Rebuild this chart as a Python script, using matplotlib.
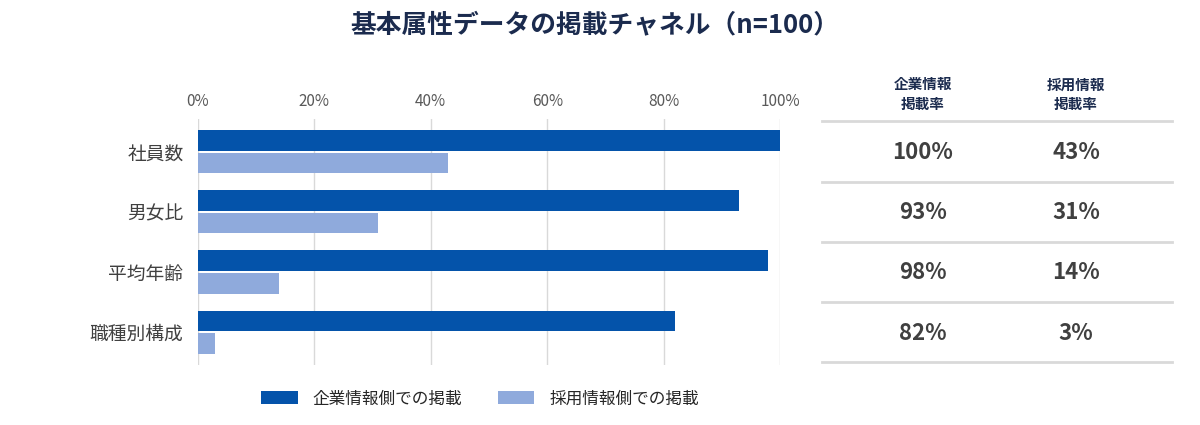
import matplotlib
matplotlib.use("Agg")
import matplotlib.pyplot as plt
from matplotlib.patches import Patch
import numpy as np

plt.rcParams['font.family'] = ['Noto Sans CJK JP', 'DejaVu Sans']

categories = ["社員数", "男女比", "平均年齢", "職種別構成"]
corp_values = [100, 93, 98, 82]
recruit_values = [43, 31, 14, 3]
series_names = ["企業情報側での掲載", "採用情報側での掲載"]
table_headers = ["企業情報\n掲載率", "採用情報\n掲載率"]
x_ticks = [0, 20, 40, 60, 80, 100]
title = "基本属性データの掲載チャネル（n=100）"

DARK = "#0453AA"
LIGHT = "#8FAADC"
NAVY = "#1B2B4E"

W, H = 1200, 425
fig = plt.figure(figsize=(W / 100, H / 100), dpi=100)

def fx(px):
    return px / W

def fy(py):
    return 1 - py / H

ax_bottom = fy(365)
ax_top = fy(119)
ax = fig.add_axes([fx(198), ax_bottom, fx(780) - fx(198), ax_top - ax_bottom])

y = np.arange(len(categories))
bh = 0.345
ax.barh(y - 0.183, corp_values, height=bh, color=DARK, zorder=3)
ax.barh(y + 0.19, recruit_values, height=bh, color=LIGHT, zorder=3)

ax.set_xlim(0, 100)
ax.set_ylim(len(categories) - 0.45, -0.54)
ax.set_xticks(x_ticks)
ax.set_xticklabels([f"{v}%" for v in x_ticks], color="#595959", fontsize=11)
ax.xaxis.tick_top()
ax.tick_params(axis="x", length=0, pad=6.5)
ax.set_yticks(y)
ax.set_yticklabels(categories, color="#404040", fontsize=13.5)
ax.tick_params(axis="y", length=0, pad=10.5)
ax.grid(axis="x", color="#D9D9D9", linewidth=1, zorder=0)
for s in ax.spines.values():
    s.set_visible(False)

# table
tab = fig.add_axes([fx(822), ax_bottom, fx(1172) - fx(822), ax_top - ax_bottom], sharey=ax)
tab.set_xlim(0, 1)
tab.axis("off")
col_x = [(923 - 822) / 350, (1076 - 822) / 350]
for i in range(len(categories) + 1):
    tab.axhline(i - 0.5, color="#D9D9D9", linewidth=2, xmin=0, xmax=1, clip_on=False)
for i in range(len(categories)):
    tab.text(col_x[0], i + 0.02, f"{corp_values[i]}%", ha="center", va="center",
             fontsize=16, fontweight="bold", color="#404040")
    tab.text(col_x[1], i + 0.02, f"{recruit_values[i]}%", ha="center", va="center",
             fontsize=16, fontweight="bold", color="#404040")
for cx, hdr in zip([923, 1076], table_headers):
    fig.text(fx(cx), fy(94), hdr, ha="center", va="center", fontsize=10.5,
             fontweight="bold", color=NAVY, linespacing=1.25)

fig.text(fx(595), fy(25), title, ha="center", va="center", fontsize=18.5,
         fontweight="bold", color=NAVY)

handles = [Patch(facecolor=DARK, edgecolor="none"), Patch(facecolor=LIGHT, edgecolor="none")]
fig.legend(handles, series_names, loc="center", bbox_to_anchor=(fx(480), fy(399)),
           ncol=2, frameon=False, fontsize=12, handlelength=2.2, handleheight=0.8,
           handletextpad=0.9, columnspacing=2.1, labelcolor="#262626")

fig.savefig("out.png", dpi=100)
